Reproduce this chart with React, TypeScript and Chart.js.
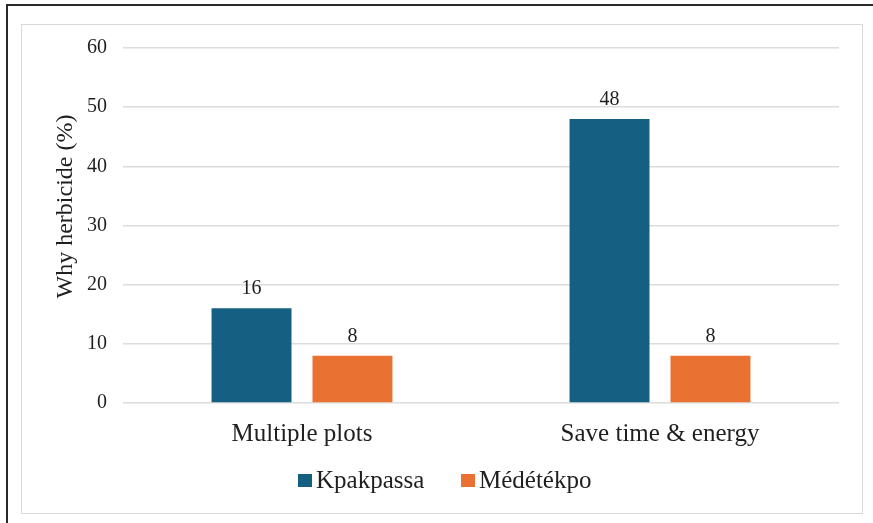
import React, { useEffect, useRef } from "react";
import { Chart, registerables } from "chart.js";

Chart.register(...registerables);

// Chart data
const categories = ["Multiple plots", "Save time & energy"];
const kpakpassa = [16, 48];
const medetekpo = [8, 8];
const seriesNames = ["Kpakpassa", "Médétékpo"];
const yTicks = [0, 10, 20, 30, 40, 50, 60];
const yTitle = "Why herbicide (%)";

const BLUE = "#156082";
const ORANGE = "#E97132";
const SERIF = "'Liberation Serif', 'Times New Roman', serif";
const TEXT = "#1f1f1f";

// Writes each bar's value just above its top edge
const valueLabels = {
  id: "valueLabels",
  afterDatasetsDraw(chart: any) {
    const ctx = chart.ctx;
    ctx.save();
    ctx.font = `20px ${SERIF}`;
    ctx.fillStyle = TEXT;
    ctx.textAlign = "center";
    ctx.textBaseline = "alphabetic";
    chart.data.datasets.forEach((ds: any, i: number) => {
      chart.getDatasetMeta(i).data.forEach((bar: any, j: number) => {
        ctx.fillText(String(ds.data[j]), bar.x, bar.y - 14);
      });
    });
    ctx.restore();
  },
};

// Rotated y-axis caption, sitting a little above the plot's middle
const axisCaption = {
  id: "axisCaption",
  afterDraw(chart: any) {
    const { ctx, chartArea } = chart;
    ctx.save();
    ctx.translate(49.5, (chartArea.top + chartArea.bottom) / 2 - 19);
    ctx.rotate(-Math.PI / 2);
    ctx.font = `24px ${SERIF}`;
    ctx.fillStyle = TEXT;
    ctx.textAlign = "center";
    ctx.textBaseline = "alphabetic";
    ctx.fillText(yTitle, 0, 0);
    ctx.restore();
  },
};

export default function App() {
  const canvasRef = useRef<HTMLCanvasElement | null>(null);

  useEffect(() => {
    if (!canvasRef.current) return;
    const chart = new Chart(canvasRef.current, {
      type: "bar",
      data: {
        labels: categories,
        datasets: [
          {
            label: seriesNames[0],
            data: kpakpassa,
            backgroundColor: BLUE,
            categoryPercentage: 0.564,
            barPercentage: 0.792,
          },
          {
            label: seriesNames[1],
            data: medetekpo,
            backgroundColor: ORANGE,
            categoryPercentage: 0.564,
            barPercentage: 0.792,
          },
        ],
      },
      options: {
        animation: false,
        responsive: false,
        maintainAspectRatio: false,
        devicePixelRatio: 1,
        layout: { padding: { left: 0, right: 23, top: 23, bottom: 60 } },
        plugins: {
          legend: { display: false },
          tooltip: { enabled: false },
        },
        scales: {
          y: {
            min: 0,
            max: 60,
            afterBuildTicks: (s: any) => {
              s.ticks = yTicks.map((v) => ({ value: v }));
            },
            afterFit: (s: any) => {
              s.width = 101;
              // keep the plot edges where the layout padding puts them
              s.paddingTop = 0;
              s.paddingBottom = 0;
            },
            grid: { color: "#dcdcdc", lineWidth: 1.5, drawTicks: false },
            border: { display: false },
            ticks: {
              font: { size: 20, family: SERIF },
              color: TEXT,
              padding: 16,
            },
          },
          x: {
            afterFit: (s: any) => {
              s.height = 50;
            },
            grid: { display: false, drawTicks: false },
            border: { display: false },
            ticks: {
              font: { size: 25, family: SERIF },
              color: TEXT,
              padding: 16,
              maxRotation: 0,
              autoSkip: false,
            },
          },
        },
      },
      plugins: [valueLabels, axisCaption],
    });
    return () => chart.destroy();
  }, []);

  const legendText: React.CSSProperties = {
    position: "absolute",
    top: 467,
    fontFamily: SERIF,
    fontSize: 25,
    lineHeight: "25px",
    color: TEXT,
    whiteSpace: "nowrap",
  };

  return (
    <div
      style={{
        position: "absolute",
        left: 0,
        top: 0,
        width: 873,
        height: 523,
        background: "#ffffff",
        overflow: "hidden",
      }}
    >
      <div style={{ position: "absolute", left: 7, top: 4, width: 866, height: 2, background: "#2a2a2a" }} />
      <div style={{ position: "absolute", left: 6, top: 4, width: 2, height: 519, background: "#2a2a2a" }} />
      <div
        style={{
          position: "absolute",
          left: 21,
          top: 24,
          width: 842,
          height: 490,
          boxSizing: "border-box",
          border: "1px solid #d9d9d9",
        }}
      />
      <canvas
        ref={canvasRef}
        width={840}
        height={488}
        style={{ position: "absolute", left: 22, top: 25, width: 840, height: 488 }}
      />
      <div style={{ position: "absolute", left: 298, top: 474, width: 14, height: 13, background: BLUE }} />
      <div style={{ ...legendText, left: 316 }}>{seriesNames[0]}</div>
      <div style={{ position: "absolute", left: 461, top: 474, width: 14, height: 13, background: ORANGE }} />
      <div style={{ ...legendText, left: 479 }}>{seriesNames[1]}</div>
    </div>
  );
}
